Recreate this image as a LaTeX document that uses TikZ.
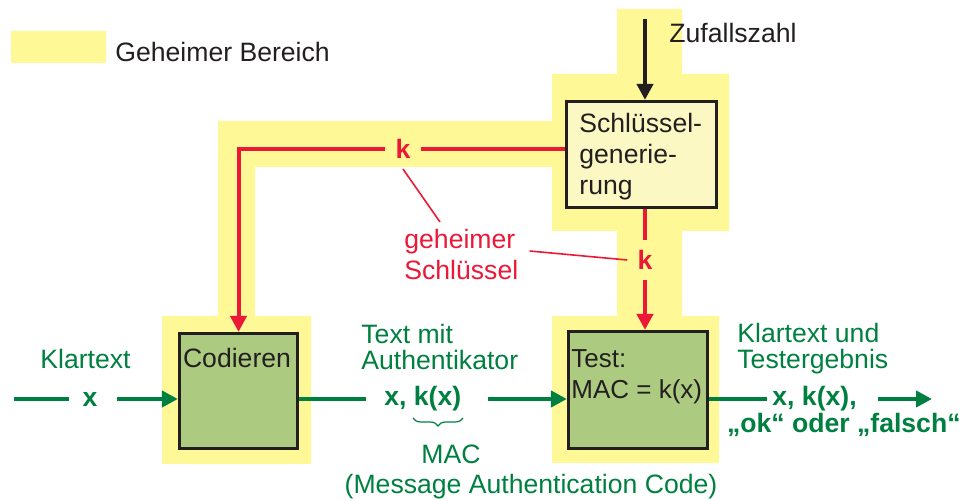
\documentclass[tikz,border=0pt]{standalone}
\usepackage{fontspec}
\setmainfont{Liberation Sans}
\usetikzlibrary{arrows.meta,decorations.pathreplacing}
\definecolor{zonegelb}{RGB}{255,248,150}
\definecolor{dgreen}{RGB}{0,128,64}
\definecolor{kred}{RGB}{235,25,55}
\definecolor{boxgreen}{RGB}{172,203,128}
\definecolor{genyellow}{RGB}{251,248,196}
\definecolor{ink}{RGB}{35,31,32}

\begin{document}
\begin{tikzpicture}[x=0.5pt, y=-0.5pt, >={Triangle[length=8pt,width=8pt]},
	every node/.style={font=\fontsize{13.3}{15.5}\selectfont, inner sep=0pt, text=ink},
	zone/.style={fill=zonegelb},
	block/.style={rectangle, draw=ink, line width=1.6pt},
	keyflow/.style={draw=kred, line width=2pt},
	dataflow/.style={draw=dgreen, line width=2pt},
	keylabel/.style={text=kred, font=\fontsize{13.3}{15.5}\selectfont\bfseries, inner sep=5pt},
	hint/.style={draw=kred, line width=0.8pt},
	dlabel/.style={text=dgreen, font=\fontsize{13.3}{13}\selectfont},
	dbold/.style={text=dgreen, font=\fontsize{13.3}{13}\selectfont\bfseries},
	macbrace/.style={draw=dgreen, line width=0.6pt, decorate, decoration={brace, mirror, amplitude=4pt}}]
	\useasboundingbox (0,0) rectangle (964,501);

	\fill[zone] (11,31) rectangle (106,63) (617,9) rectangle (682,74) (552,74) rectangle (729,231)
		(218,121) rectangle (552,167) (218,121) rectangle (255,316) (162,316) rectangle (311,464)
		(617,231) rectangle (682,316) (552,316) rectangle (719,463);
	\node[anchor=base west] (legend) at (115,62) {Geheimer Bereich};

	\node[block, fill=genyellow, minimum width=75pt, minimum height=53pt] (gen) at (641.5,154.5) {};
	\node[block, fill=boxgreen, minimum width=59pt, minimum height=57.5pt] (cod) at (238.5,391) {};
	\node[block, fill=boxgreen, minimum width=69.5pt, minimum height=58.5pt] (test) at (638,390) {};
	\node[anchor=north west, align=left] (gentxt) at (579,113) {Schlüssel-\\generie-\\rung};
	\node[anchor=base] (codtxt) at (237,368) {Codieren};
	\node[anchor=north west, align=left, font=\fontsize{13}{15.5}\selectfont] (testtxt) at (571,349) {Test:\\MAC = k(x)};

	\coordinate (rnd) at (645,19);
	\draw[->, draw=ink, line width=2pt] (rnd) -- (rnd |- gen.north);
	\node[anchor=base west] (rndtxt) at (669,43) {Zufallszahl};

	\node[keylabel] (kA) at (403,149) {k};
	\draw[keyflow] (gen.west |- kA) -- (kA.east);
	\draw[keyflow, ->] (kA.west) -| (cod.north);
	\node[keylabel] (kB) at (645,260) {k};
	\draw[keyflow] (gen.south -| kB) -- (kB.north);
	\draw[keyflow, ->] (kB.south) -- (kB.south |- test.north);
	\node[anchor=north west, align=left, text=kred] (secret) at (404,229) {geheimer\\Schlüssel};
	\draw[hint] (kA.south) -- ([shift={(36,-7)}]secret.north west);
	\draw[hint] ([shift={(11,22)}]secret.north east) -- (kB.west);

	\node[dlabel, anchor=base west] (plain) at (40,369) {Klartext};
	\coordinate (src) at (14,399);
	\node[dbold] (inx) at (90,399) {x};
	\draw[dataflow] (src) -- ([xshift=-6.5pt]inx.west);
	\draw[dataflow, ->] ([xshift=9.5pt]inx.east) -- (inx -| cod.west);

	\node[dlabel, anchor=north west, align=left] (tagtxt) at (361,324) {Text mit\\Authentikator};
	\node[dbold, anchor=west] (tag) at (384,399) {x, k(x)};
	\draw[dataflow] (tag -| cod.east) -- ([xshift=-9pt]tag.west);
	\draw[dataflow, ->] ([xshift=13pt]tag.east) -- (tag -| test.west);
	\draw[macbrace] (413,418) -- (463,418);
	\node[dlabel, anchor=base] (mac) at (451,464) {MAC};
	\node[dlabel, anchor=base] (macfull) at (531,494) {(Message Authentication Code)};

	\node[dlabel, anchor=north west, align=left] (resulttxt) at (737,323) {Klartext und\\Testergebnis};
	\node[dbold, anchor=west] (outx) at (772,399) {x, k(x),};
	\coordinate (sink) at (932,399);
	\draw[dataflow] (outx -| test.east) -- ([xshift=-2.5pt]outx.west);
	\draw[dataflow, ->] ([xshift=10.5pt]outx.east) -- (sink);
	\node[dbold, anchor=base east] (verdict) at (961,433) {„ok“ oder „falsch“};
\end{tikzpicture}
\end{document}
